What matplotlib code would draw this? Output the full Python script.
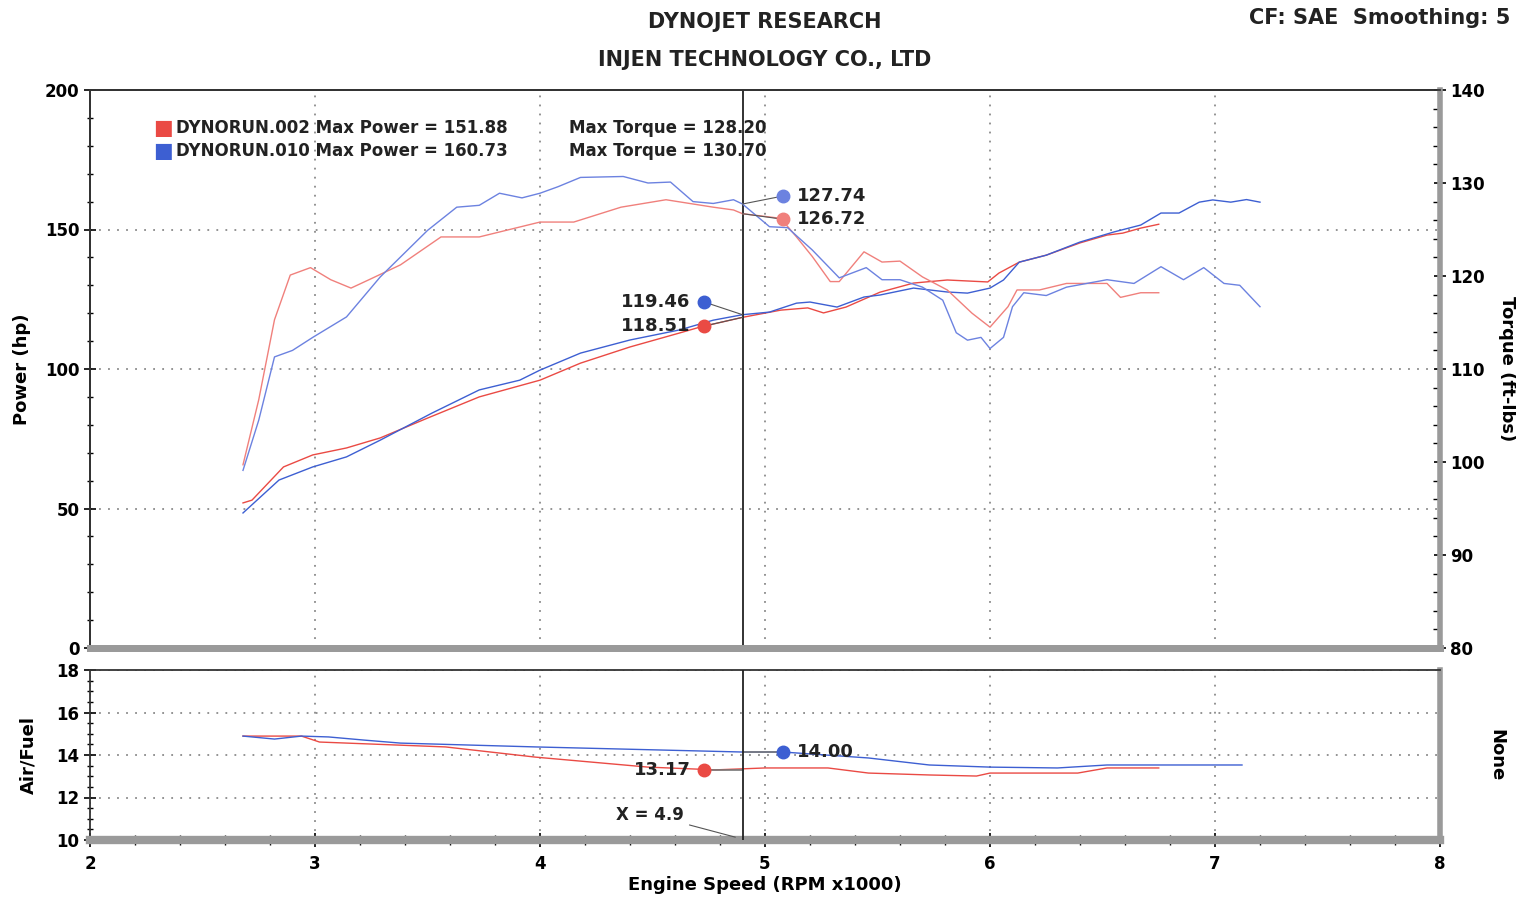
import numpy as np
import matplotlib.pyplot as plt
from matplotlib.ticker import MultipleLocator

# --- data (rpm x1000) ---
red_tq_rpm = [2.68, 2.75, 2.82, 2.89, 2.98, 3.07, 3.16, 3.24, 3.38, 3.56, 3.73, 4.00, 4.15, 4.36,
              4.56, 4.77, 4.86, 4.90, 5.07, 5.14, 5.21, 5.29, 5.33, 5.44, 5.52, 5.60, 5.70, 5.81,
              5.92, 6.00, 6.08, 6.12, 6.22, 6.34, 6.52, 6.58, 6.67, 6.75]
red_tq = [99.7, 106.7, 115.3, 120.1, 120.9, 119.6, 118.7, 119.6, 121.2, 124.2, 124.2, 125.8, 125.8, 127.4,
          128.2, 127.4, 127.1, 126.7, 126.2, 124.2, 122.1, 119.4, 119.4, 122.6, 121.5, 121.6, 119.9, 118.5,
          116.0, 114.5, 116.7, 118.5, 118.5, 119.2, 119.2, 117.7, 118.2, 118.2]

blue_tq_rpm = [2.68, 2.75, 2.82, 2.90, 2.99, 3.14, 3.29, 3.50, 3.63, 3.73, 3.82, 3.92, 4.00, 4.08,
               4.18, 4.37, 4.48, 4.58, 4.68, 4.77, 4.86, 4.90, 5.02, 5.10, 5.21, 5.33, 5.45, 5.52,
               5.60, 5.70, 5.79, 5.85, 5.90, 5.96, 6.00, 6.06, 6.10, 6.15, 6.25, 6.34, 6.52, 6.64,
               6.76, 6.86, 6.95, 7.04, 7.11, 7.20]
blue_tq = [99.1, 104.5, 111.3, 112.0, 113.4, 115.6, 119.9, 124.9, 127.4, 127.6, 128.9, 128.4, 128.9, 129.6,
           130.6, 130.7, 130.0, 130.1, 128.0, 127.8, 128.2, 127.74, 125.3, 125.2, 122.8, 119.8, 120.9, 119.6,
           119.6, 118.8, 117.4, 113.9, 113.1, 113.4, 112.2, 113.4, 116.7, 118.2, 117.9, 118.8, 119.6, 119.2,
           121.0, 119.6, 120.9, 119.2, 119.0, 116.7]

red_hp_rpm = [2.68, 2.72, 2.86, 2.99, 3.14, 3.29, 3.50, 3.73, 4.00, 4.18, 4.40, 4.62, 4.71, 4.90,
              5.07, 5.19, 5.26, 5.36, 5.51, 5.66, 5.81, 5.99, 6.04, 6.13, 6.25, 6.40, 6.52, 6.59,
              6.67, 6.75]
red_hp = [52.0, 53.0, 64.9, 69.2, 71.7, 75.3, 82.4, 90.0, 96.0, 102.1, 107.9, 112.9, 115.0, 118.51,
          121.1, 121.9, 120.1, 122.2, 127.5, 130.8, 131.9, 131.2, 134.4, 138.3, 140.8, 145.2, 148.0, 148.7,
          150.5, 151.88]

blue_hp_rpm = [2.68, 2.84, 2.99, 3.14, 3.29, 3.52, 3.73, 3.91, 4.00, 4.18, 4.40, 4.62, 4.77, 4.90,
               5.02, 5.14, 5.20, 5.32, 5.44, 5.51, 5.66, 5.81, 5.90, 6.00, 6.06, 6.13, 6.25, 6.40,
               6.55, 6.67, 6.76, 6.84, 6.93, 6.99, 7.07, 7.14, 7.20]
blue_hp = [48.4, 60.2, 64.9, 68.5, 74.5, 84.2, 92.5, 96.0, 99.6, 105.7, 110.4, 114.0, 117.5, 119.46,
           120.4, 123.6, 124.0, 122.2, 125.8, 126.5, 129.0, 127.6, 127.2, 129.0, 131.9, 138.3, 140.8, 145.5,
           149.1, 151.6, 155.9, 155.9, 159.8, 160.6, 159.8, 160.73, 159.8]

blue_af_rpm = [2.68, 2.82, 2.94, 3.06, 3.22, 3.38, 3.98, 4.90, 5.08, 5.46, 5.73, 6.00, 6.30, 6.52, 7.12]
blue_af = [14.89, 14.75, 14.89, 14.85, 14.70, 14.56, 14.38, 14.14, 14.14, 13.86, 13.53, 13.43, 13.39, 13.53, 13.53]
red_af_rpm = [2.68, 2.94, 3.02, 3.58, 3.98, 4.48, 4.78, 5.00, 5.28, 5.46, 5.73, 5.94, 6.00, 6.39, 6.52, 6.75]
red_af = [14.89, 14.89, 14.61, 14.38, 13.90, 13.43, 13.30, 13.39, 13.39, 13.15, 13.06, 13.01, 13.15, 13.15,
          13.39, 13.39]

cursor_x = 4.9
runs = ["DYNORUN.002", "DYNORUN.010"]
max_power = ["151.88", "160.73"]
max_torque = ["128.20", "130.70"]
cursor_tq = ["126.72", "127.74"]
cursor_hp = ["118.51", "119.46"]
cursor_af = ["13.17", "14.00"]

RED = "#ea4a44"
RED_LT = "#f0807c"
BLUE = "#3d5fd2"
BLUE_LT = "#6c82e0"
GRID = "#8a8a8a"

plt.rcParams['font.family'] = ['DejaVu Sans']
plt.rcParams['font.weight'] = 'bold'

fig = plt.figure(figsize=(15.16, 9), dpi=100)
ax = fig.add_axes([90 / 1516, 1 - 648 / 900, 1350 / 1516, 558 / 900])
axt = ax.twinx()
ax2 = fig.add_axes([90 / 1516, 1 - 840 / 900, 1350 / 1516, 170 / 900])

# --- power / torque panel ---
ax.plot(red_hp_rpm, red_hp, color=RED, lw=1.0, zorder=3)
ax.plot(blue_hp_rpm, blue_hp, color=BLUE, lw=1.0, zorder=3)
axt.plot(red_tq_rpm, red_tq, color=RED_LT, lw=1.0)
axt.plot(blue_tq_rpm, blue_tq, color=BLUE_LT, lw=1.0)

ax.set_xlim(2, 8)
ax.set_ylim(0, 200)
axt.set_ylim(80, 140)
ax.set_yticks([0, 50, 100, 150, 200])
ax.yaxis.set_minor_locator(MultipleLocator(10))
axt.set_yticks([80, 90, 100, 110, 120, 130, 140])
axt.yaxis.set_minor_locator(MultipleLocator(2))
ax.set_xticks([3, 4, 5, 6, 7])
ax.tick_params(axis='x', length=0, labelbottom=False)
ax.tick_params(axis='y', which='major', direction='inout', length=8, width=1.2, labelsize=12)
ax.tick_params(axis='y', which='minor', direction='inout', length=5, width=1)
axt.tick_params(axis='y', which='major', direction='inout', length=8, width=1.2, labelsize=12)
axt.tick_params(axis='y', which='minor', direction='in', length=5, width=1)
ax.grid(True, linestyle=(0, (1, 4)), color=GRID, lw=1.3)
for a in (ax, axt):
    for s in a.spines.values():
        s.set_color("#333333")
        s.set_linewidth(1.3)
ax.spines['bottom'].set_color("#9a9a9a")
ax.spines['bottom'].set_linewidth(5)
axt.spines['bottom'].set_color("#9a9a9a")
axt.spines['bottom'].set_linewidth(5)
axt.spines['right'].set_color("#9a9a9a")
axt.spines['right'].set_linewidth(4)

ax.set_ylabel("Power (hp)", fontsize=13, fontweight='bold', labelpad=10)
axt.set_ylabel("Torque (ft-lbs)", fontsize=13, fontweight='bold', rotation=-90, labelpad=22)

ax.axvline(cursor_x, color="#222222", lw=1.3, zorder=4)

# legend block
for i, (c, y) in enumerate(zip([RED, BLUE], [0.932, 0.891])):
    ax.text(0.047, y, "\u25A0", transform=ax.transAxes, color=c, fontsize=15, va='center', ha='left')
    ax.text(0.064, y, f"{runs[i]} Max Power = {max_power[i]}", transform=ax.transAxes,
            fontsize=12, fontweight='bold', va='center', color="#222222")
    ax.text(0.355, y, f"Max Torque = {max_torque[i]}", transform=ax.transAxes,
            fontsize=12, fontweight='bold', va='center', color="#222222")

# cursor readouts, torque (right axis)
tq_dots = [(cursor_x + 0.18, 126.1, RED_LT, red_tq_rpm, red_tq, cursor_tq[0]),
           (cursor_x + 0.18, 128.6, BLUE_LT, blue_tq_rpm, blue_tq, cursor_tq[1])]
for dx, dy, c, xs, ys, lab in tq_dots:
    yc = np.interp(cursor_x, xs, ys)
    axt.plot([cursor_x, dx], [yc, dy], color="#555555", lw=0.8, zorder=5)
    axt.plot(dx, dy, 'o', color=c, ms=9, zorder=6)
    axt.text(dx + 0.06, dy, lab, fontsize=13, fontweight='bold', va='center', ha='left', color="#222222")

hp_dots = [(cursor_x - 0.17, 115.4, RED, red_hp_rpm, red_hp, cursor_hp[0]),
           (cursor_x - 0.17, 124.0, BLUE, blue_hp_rpm, blue_hp, cursor_hp[1])]
for dx, dy, c, xs, ys, lab in hp_dots:
    yc = np.interp(cursor_x, xs, ys)
    ax.plot([cursor_x, dx], [yc, dy], color="#555555", lw=0.8, zorder=5)
    ax.plot(dx, dy, 'o', color=c, ms=9, zorder=6)
    ax.text(dx - 0.06, dy, lab, fontsize=13, fontweight='bold', va='center', ha='right', color="#222222")

# --- air / fuel panel ---
ax2.plot(red_af_rpm, red_af, color=RED, lw=1.0)
ax2.plot(blue_af_rpm, blue_af, color=BLUE, lw=1.0)
ax2.set_xlim(2, 8)
ax2.set_ylim(10, 18)
ax2.set_yticks([10, 12, 14, 16, 18])
ax2.yaxis.set_minor_locator(MultipleLocator(0.5))
ax2.set_xticks([2, 3, 4, 5, 6, 7, 8])
ax2.xaxis.set_minor_locator(MultipleLocator(0.2))
ax2.tick_params(axis='x', which='major', direction='inout', length=10, width=1.2, labelsize=12, pad=6)
ax2.tick_params(axis='x', which='minor', direction='inout', length=7, width=1)
ax2.tick_params(axis='y', which='major', direction='inout', length=8, width=1.2, labelsize=12)
ax2.tick_params(axis='y', which='minor', direction='inout', length=5, width=1)
ax2.grid(True, linestyle=(0, (1, 4)), color=GRID, lw=1.3)
for s in ax2.spines.values():
    s.set_color("#333333")
    s.set_linewidth(1.3)
ax2.spines['bottom'].set_color("#9a9a9a")
ax2.spines['bottom'].set_linewidth(6)
ax2.spines['right'].set_color("#9a9a9a")
ax2.spines['right'].set_linewidth(4)
ax2.set_ylabel("Air/Fuel", fontsize=13, fontweight='bold', labelpad=14)
ax2.set_xlabel("Engine Speed (RPM x1000)", fontsize=13, fontweight='bold', labelpad=2)
ax2.axvline(cursor_x, color="#222222", lw=1.3, zorder=4)
ax2.text(1.042, 0.5, "None", transform=ax2.transAxes, rotation=-90, fontsize=13,
         fontweight='bold', va='center', ha='center')

af_dots = [(cursor_x - 0.17, 13.3, RED, cursor_af[0], 'right'),
           (cursor_x + 0.18, 14.14, BLUE, cursor_af[1], 'left')]
for dx, dy, c, lab, ha in af_dots:
    ax2.plot([cursor_x, dx], [dy, dy], color="#777777", lw=1.2, zorder=3)
    ax2.plot(dx, dy, 'o', color=c, ms=9, zorder=6)
    off = 0.06 if ha == 'left' else -0.06
    ax2.text(dx + off, dy, lab, fontsize=13, fontweight='bold', va='center', ha=ha, color="#222222")

ax2.annotate(f"X = {cursor_x}", xy=(cursor_x - 0.02, 10.1), xytext=(4.64, 11.2),
             fontsize=12, fontweight='bold', ha='right', va='center', color="#222222",
             arrowprops=dict(arrowstyle='-', color="#555555", lw=0.8))

# --- headings ---
fig.text(765 / 1516, 1 - 22 / 900, "DYNOJET RESEARCH", fontsize=15, fontweight='bold',
         ha='center', va='center', color="#222222")
fig.text(765 / 1516, 1 - 60 / 900, "INJEN TECHNOLOGY CO., LTD", fontsize=15, fontweight='bold',
         ha='center', va='center', color="#222222")
fig.text(1510 / 1516, 1 - 18 / 900, "CF: SAE  Smoothing: 5", fontsize=15, fontweight='bold',
         ha='right', va='center', color="#222222")

fig.savefig("out.png", dpi=100)
